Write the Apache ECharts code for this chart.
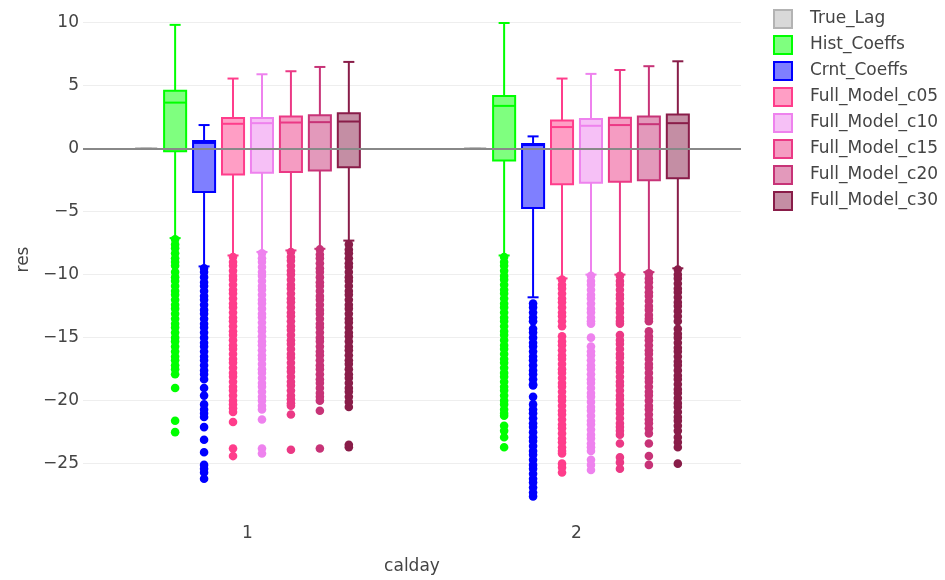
<!DOCTYPE html>
<html><head><meta charset="utf-8">
<script src="https://cdn.jsdelivr.net/npm/echarts@6/dist/echarts.min.js"></script>
<style>html,body{margin:0;padding:0;background:#fff}#c{width:945px;height:580px}</style>
</head><body><div id="c"></div>
<script>
const categories = ['1', '2'];
const seriesNames = ['True_Lag','Hist_Coeffs','Crnt_Coeffs','Full_Model_c05','Full_Model_c10','Full_Model_c15','Full_Model_c20','Full_Model_c30'];

// box stats per category: [lower whisker, q1, median, q3, upper whisker]
const trueLagBox = [[0,0,0,0,0],[0,0,0,0,0]];
const histBox    = [[-7.1,-0.21,3.65,4.59,9.82],[-8.48,-0.94,3.39,4.17,9.97]];
const crntBox    = [[-9.35,-3.44,0.45,0.6,1.87],[-11.8,-4.72,0.28,0.37,0.97]];
const c05Box     = [[-8.48,-2.05,1.97,2.42,5.56],[-10.3,-2.83,1.71,2.23,5.56]];
const c10Box     = [[-8.2,-1.92,2.02,2.42,5.9],[-10.0,-2.7,1.81,2.34,5.93]];
const c15Box     = [[-8.08,-1.86,2.07,2.54,6.14],[-10.0,-2.62,1.87,2.44,6.24]];
const c20Box     = [[-7.95,-1.73,2.1,2.65,6.48],[-9.8,-2.52,1.94,2.54,6.54]];
const c30Box     = [[-7.3,-1.47,2.15,2.81,6.88],[-9.5,-2.36,2.02,2.7,6.93]];

// outliers, calday 1 and calday 2
const trueLagOut1 = [];
const trueLagOut2 = [];
const histOut1 = [-7.2,-7.6,-7.9,-8.3,-8.7,-9.0,-9.3,-9.8,-10.2,-10.5,-10.9,-11.3,-11.6,-12.0,-12.4,-12.7,-13.1,-13.5,-13.9,-14.2,-14.6,-15.0,-15.3,-15.7,-16.1,-16.5,-16.8,-17.2,-17.5,-17.9,-19.0,-21.6,-22.5];
const histOut2 = [-8.6,-9.0,-9.3,-9.7,-10.1,-10.4,-10.8,-11.2,-11.5,-11.9,-12.3,-12.6,-13.0,-13.4,-13.7,-14.1,-14.5,-14.8,-15.2,-15.6,-15.9,-16.3,-16.7,-17.0,-17.4,-17.8,-18.1,-18.5,-18.9,-19.2,-19.6,-20.0,-20.3,-20.7,-21.0,-21.2,-22.0,-22.4,-22.9,-23.7];
const crntOut1 = [-9.5,-9.8,-10.2,-10.6,-10.9,-11.3,-11.7,-12.0,-12.4,-12.8,-13.1,-13.5,-13.9,-14.2,-14.6,-15.0,-15.4,-15.7,-16.1,-16.5,-16.8,-17.2,-17.6,-17.9,-18.3,-19.0,-19.6,-20.3,-20.7,-21.0,-21.3,-22.1,-23.1,-24.1,-25.1,-25.4,-25.7,-26.2];
const crntOut2 = [-12.3,-12.6,-13.0,-13.4,-13.7,-14.3,-14.6,-15.0,-15.4,-15.7,-16.1,-16.5,-16.8,-17.2,-17.6,-17.9,-18.3,-18.7,-18.8,-19.7,-20.3,-20.7,-21.0,-21.4,-21.8,-22.1,-22.5,-22.9,-23.2,-23.6,-24.0,-24.3,-24.7,-25.1,-25.4,-25.8,-26.2,-26.5,-26.9,-27.3,-27.6];
const c05Out1 = [-8.6,-9.0,-9.3,-9.7,-10.1,-10.4,-10.8,-11.2,-11.5,-11.9,-12.3,-12.6,-13.0,-13.4,-13.7,-14.1,-14.5,-14.8,-15.2,-15.6,-15.9,-16.3,-16.7,-17.0,-17.4,-17.8,-18.1,-18.5,-18.9,-19.2,-19.6,-20.0,-20.3,-20.6,-20.9,-21.7,-23.8,-24.4];
const c05Out2 = [-10.4,-10.8,-11.1,-11.5,-11.9,-12.2,-12.6,-13.0,-13.3,-13.7,-14.1,-14.9,-15.3,-15.6,-16.0,-16.4,-16.7,-17.1,-17.5,-17.8,-18.2,-18.6,-18.9,-19.3,-19.7,-20.0,-20.4,-20.8,-21.1,-21.5,-21.9,-22.2,-22.6,-23.0,-23.3,-23.7,-24.0,-24.2,-25.0,-25.3,-25.7];
const c10Out1 = [-8.3,-8.7,-9.0,-9.4,-9.8,-10.1,-10.5,-10.9,-11.2,-11.6,-12.0,-12.3,-12.7,-13.1,-13.4,-13.8,-14.2,-14.5,-14.9,-15.3,-15.6,-16.0,-16.4,-16.7,-17.1,-17.5,-17.8,-18.2,-18.6,-18.9,-19.3,-19.7,-20.0,-20.4,-20.7,-21.5,-23.8,-24.2];
const c10Out2 = [-10.1,-10.5,-10.8,-11.2,-11.6,-11.9,-12.3,-12.7,-13.0,-13.4,-13.7,-13.9,-15.0,-15.7,-16.1,-16.4,-16.8,-17.2,-17.5,-17.9,-18.3,-18.6,-19.0,-19.4,-19.7,-20.1,-20.5,-20.8,-21.2,-21.6,-21.9,-22.3,-22.7,-23.0,-23.4,-23.7,-24.0,-24.7,-25.1,-25.5];
const c15Out1 = [-8.2,-8.6,-8.9,-9.3,-9.7,-10.0,-10.4,-10.8,-11.1,-11.5,-11.9,-12.2,-12.6,-13.0,-13.3,-13.7,-14.1,-14.4,-14.8,-15.2,-15.5,-15.9,-16.3,-16.6,-17.0,-17.4,-17.7,-18.1,-18.5,-18.8,-19.2,-19.6,-19.9,-20.2,-20.4,-21.1,-23.9];
const c15Out2 = [-10.1,-10.5,-10.8,-11.2,-11.6,-11.9,-12.3,-12.7,-13.0,-13.4,-13.7,-13.9,-14.8,-15.2,-15.5,-15.9,-16.3,-16.6,-17.0,-17.4,-17.7,-18.1,-18.5,-18.8,-19.2,-19.6,-19.9,-20.3,-20.7,-21.0,-21.4,-21.8,-22.1,-22.4,-22.7,-23.4,-24.5,-24.9,-25.4];
const c20Out1 = [-8.0,-8.4,-8.7,-9.1,-9.5,-9.8,-10.2,-10.6,-10.9,-11.3,-11.7,-12.0,-12.4,-12.8,-13.1,-13.5,-13.9,-14.2,-14.6,-15.0,-15.3,-15.7,-16.1,-16.4,-16.8,-17.2,-17.5,-17.9,-18.3,-18.6,-19.0,-19.4,-19.7,-20.0,-20.8,-23.8];
const c20Out2 = [-9.9,-10.3,-10.6,-11.0,-11.4,-11.7,-12.1,-12.5,-12.8,-13.2,-13.5,-13.7,-14.5,-14.9,-15.2,-15.6,-16.0,-16.3,-16.7,-17.1,-17.4,-17.8,-18.2,-18.5,-18.9,-19.3,-19.6,-20.0,-20.4,-20.7,-21.1,-21.5,-21.8,-22.2,-22.6,-23.4,-24.4,-25.1];
const c30Out1 = [-7.6,-8.0,-8.3,-8.7,-9.1,-9.4,-9.8,-10.2,-10.5,-10.9,-11.3,-11.6,-12.0,-12.4,-12.7,-13.1,-13.5,-13.8,-14.2,-14.6,-14.9,-15.3,-15.7,-16.0,-16.4,-16.8,-17.1,-17.5,-17.9,-18.2,-18.6,-19.0,-19.3,-19.7,-20.1,-20.5,-23.5,-23.7];
const c30Out2 = [-9.6,-10.0,-10.3,-10.7,-11.1,-11.4,-11.8,-12.2,-12.5,-12.9,-13.3,-13.7,-14.3,-14.7,-15.0,-15.4,-15.8,-16.1,-16.5,-16.9,-17.2,-17.6,-18.0,-18.3,-18.7,-19.1,-19.4,-19.8,-20.2,-20.5,-20.9,-21.3,-21.6,-22.0,-22.4,-22.9,-23.3,-23.7,-25.0];

const boxStats = [trueLagBox, histBox, crntBox, c05Box, c10Box, c15Box, c20Box, c30Box];
const outliers = [[trueLagOut1,trueLagOut2],[histOut1,histOut2],[crntOut1,crntOut2],[c05Out1,c05Out2],[c10Out1,c10Out2],[c15Out1,c15Out2],[c20Out1,c20Out2],[c30Out1,c30Out2]];

// styling
const lineColors = ['#b3b3b3','#00ff00','#0000ff','#ff3d8b','#ee82ee','#eb3985','#c73377','#891d49'];
const FONT = 'DejaVu Sans';
const TEXT = '#444';
function fade(hex) {
  const n = parseInt(hex.slice(1), 16);
  return 'rgba(' + (n >> 16 & 255) + ',' + (n >> 8 & 255) + ',' + (n & 255) + ',0.5)';
}
const STEP = 0.088;   // slot spacing as fraction of band width
const HALF = 0.0335;  // half box width as fraction of band width

const series = [{
  type: 'line', data: [], silent: true, z: 1,
  markLine: {
    silent: true, symbol: 'none', animation: false,
    label: { show: false },
    lineStyle: { color: '#888', width: 2, type: 'solid' },
    data: [{ yAxis: 0 }]
  }
}];

seriesNames.forEach(function (name, k) {
  const col = lineColors[k];
  const off = (k - 3.5) * STEP;
  series.push({
    name: name, type: 'custom', z: 3,
    encode: { x: 0, y: [1, 2, 3, 4, 5] },
    data: boxStats[k].map(function (s, i) { return [i].concat(s); }),
    renderItem: function (params, api) {
      const bw = api.size([1, 0])[0];
      const ci = api.value(0);
      const cx = api.coord([ci, 0])[0] + off * bw;
      const hw = HALF * bw;
      const y = function (j) { return api.coord([ci, api.value(j)])[1]; };
      const yMin = y(1), yQ1 = y(2), yMed = y(3), yQ3 = y(4), yMax = y(5);
      const st = { stroke: col, lineWidth: 2, fill: null };
      return { type: 'group', children: [
        { type: 'line', shape: { x1: cx, y1: yMin, x2: cx, y2: yQ1 }, style: st },
        { type: 'line', shape: { x1: cx, y1: yQ3, x2: cx, y2: yMax }, style: st },
        { type: 'line', shape: { x1: cx - hw / 2, y1: yMin, x2: cx + hw / 2, y2: yMin }, style: st },
        { type: 'line', shape: { x1: cx - hw / 2, y1: yMax, x2: cx + hw / 2, y2: yMax }, style: st },
        { type: 'rect', shape: { x: cx - hw, y: yQ3, width: 2 * hw, height: yQ1 - yQ3 }, style: { fill: fade(col), stroke: col, lineWidth: 2 } },
        { type: 'line', shape: { x1: cx - hw, y1: yMed, x2: cx + hw, y2: yMed }, style: st }
      ]};
    }
  });
  const pts = [];
  outliers[k].forEach(function (arr, i) { arr.forEach(function (v) { pts.push([i, v]); }); });
  series.push({
    name: name, type: 'custom', z: 4,
    encode: { x: 0, y: 1 },
    data: pts,
    renderItem: function (params, api) {
      const bw = api.size([1, 0])[0];
      const p = api.coord([api.value(0), api.value(1)]);
      return { type: 'circle', shape: { cx: p[0] + off * bw, cy: p[1], r: 4.3 }, style: { fill: col } };
    }
  });
});

const chart = echarts.init(document.getElementById('c'));
chart.setOption({
  animation: false,
  backgroundColor: '#fff',
  textStyle: { fontFamily: FONT },
  grid: { left: 83, right: 204, top: 10, bottom: 68, containLabel: false },
  legend: {
    orient: 'vertical', left: 768, top: 4, itemWidth: 18, itemHeight: 18, itemGap: 6,
    textStyle: { fontFamily: FONT, fontSize: 17, color: TEXT, padding: [0, 0, 0, 13] },
    data: seriesNames.map(function (n, k) {
      return { name: n, icon: 'rect', itemStyle: { color: fade(lineColors[k]), borderColor: lineColors[k], borderWidth: 2 } };
    })
  },
  xAxis: {
    type: 'category', data: categories,
    axisLine: { show: false }, axisTick: { show: false }, splitLine: { show: false },
    axisLabel: { fontFamily: FONT, fontSize: 17, color: TEXT, margin: 16 },
    name: 'calday', nameLocation: 'middle', nameGap: 49,
    nameTextStyle: { fontFamily: FONT, fontSize: 17, color: TEXT }
  },
  yAxis: {
    type: 'value', min: -28.6, max: 11, splitNumber: 8,
    axisLine: { show: false }, axisTick: { show: false },
    axisLabel: {
      fontFamily: FONT, fontSize: 17, color: TEXT, margin: 4,
      showMinLabel: false, showMaxLabel: false,
      formatter: function (v) {
        if (Math.abs(v % 5) > 1e-9) return '';
        return v < 0 ? '\u2212' + Math.abs(v) : String(v);
      }
    },
    splitLine: { lineStyle: { color: '#eee', width: 1 }, showMinLine: false, showMaxLine: false },
    name: 'res', nameLocation: 'middle', nameGap: 45,
    nameTextStyle: { fontFamily: FONT, fontSize: 17, color: TEXT }
  },
  series: series
});
</script>
</body></html>
